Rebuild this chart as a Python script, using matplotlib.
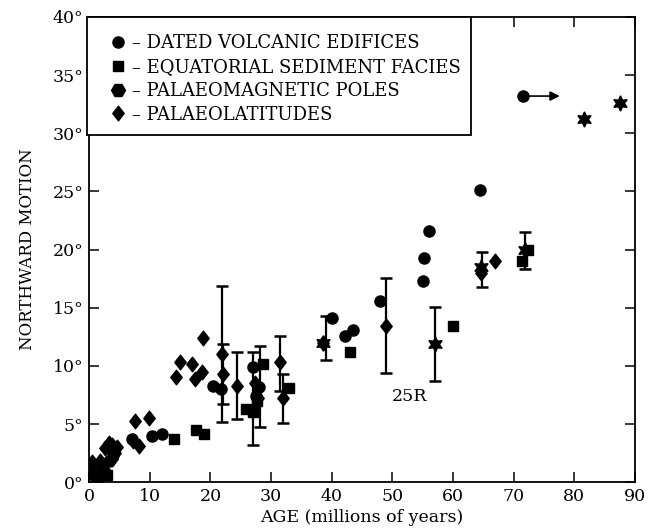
import matplotlib
matplotlib.use("Agg")
import matplotlib.pyplot as plt
from matplotlib.lines import Line2D
from matplotlib.patches import Rectangle
from matplotlib.path import Path

plt.rcParams['font.family'] = ['DejaVu Serif']

# ---- data ----
volc_x = [0.8, 2.2, 3.3, 4.0, 7.0, 10.3, 12.1, 20.5, 21.8, 27.1, 27.6, 28.0,
          40.0, 42.2, 43.5, 47.9, 55.1, 55.2, 56.1, 64.4, 71.5]
volc_y = [0.9, 0.7, 1.8, 2.3, 3.7, 3.95, 4.1, 8.3, 8.0, 9.9, 7.4, 8.2,
          14.1, 12.6, 13.1, 15.6, 17.3, 19.3, 21.6, 25.1, 33.2]

sed_x = [1.5, 3.0, 14.0, 17.7, 19.0, 25.9, 27.0, 27.7, 28.7, 33.0, 43.0, 60.0, 71.4, 72.4]
sed_y = [0.3, 0.6, 3.75, 4.45, 4.1, 6.3, 6.0, 7.0, 10.2, 8.1, 11.2, 13.45, 19.0, 20.0]

pole_x = [38.6, 57.0, 64.7, 71.8, 81.6, 87.6]
pole_y = [12.0, 11.9, 18.5, 20.0, 31.25, 32.6]

lat_x = [0.3, 0.5, 1.2, 1.5, 1.8, 2.0, 2.6, 2.8, 3.2, 3.7, 3.8, 4.2, 4.6, 7.5, 9.8, 7.3, 8.3,
         14.4, 15.0, 16.9, 17.5, 18.6, 18.7, 21.9, 22.1, 24.4, 27.3, 27.8, 31.5, 31.9,
         38.6, 48.9, 64.6, 67.0]
lat_y = [0.8, 1.7, 0.5, 0.2, 1.8, 1.3, 2.9, 0.9, 3.4, 3.2, 2.0, 2.5, 3.0, 5.3, 5.5, 3.5, 3.1,
         9.0, 10.3, 10.2, 8.9, 9.45, 12.4, 11.0, 9.3, 8.3, 8.5, 7.2, 10.3, 7.2,
         12.0, 13.45, 18.0, 19.0]

err_x = [21.9, 22.1, 24.4, 27.1, 28.1, 31.5, 31.9, 39.0, 48.9, 57.0, 64.8, 71.8]
err_y = [11.0, 9.3, 8.3, 7.2, 8.2, 10.2, 7.2, 12.4, 13.45, 11.9, 18.3, 19.9]
err_e = [5.85, 2.6, 2.9, 4.0, 3.5, 2.4, 2.1, 1.9, 4.1, 3.2, 1.5, 1.6]

arrow_from = (71.5, 33.2)
arrow_to = (77.6, 33.2)

legend_labels = ['– DATED VOLCANIC EDIFICES', '– EQUATORIAL SEDIMENT FACIES',
                 '– PALAEOMAGNETIC POLES', '– PALAEOLATITUDES']
x_ticks = [0, 10, 20, 30, 40, 50, 60, 70, 80, 90]
y_ticks = [0, 5, 10, 15, 20, 25, 30, 35, 40]

# diamond marker (slightly narrower than tall)
diamond = Path([(0, 1), (0.78, 0), (0, -1), (-0.78, 0), (0, 1)],
               [Path.MOVETO, Path.LINETO, Path.LINETO, Path.LINETO, Path.CLOSEPOLY])

# ---- figure ----
fig = plt.figure(figsize=(6.6, 5.31), dpi=100)
ax = fig.add_axes([0.135, 0.092, 0.827, 0.876])

ax.errorbar(err_x, err_y, yerr=err_e, fmt='none', ecolor='black',
            elinewidth=1.6, capsize=4, capthick=1.8, zorder=2)

ax.plot(volc_x, volc_y, 'o', color='black', ms=8, ls='none', zorder=3)
ax.plot(sed_x, sed_y, 's', color='black', ms=6.5, ls='none', zorder=3)
ax.plot(lat_x, lat_y, marker=diamond, color='black', ms=10.5, ls='none', zorder=3)
ax.plot(pole_x, pole_y, marker=(6, 1, 0), color='black', ms=11, ls='none', zorder=4)

ax.annotate('', xy=arrow_to, xytext=arrow_from,
            arrowprops=dict(arrowstyle='-|>', color='black', lw=1.2,
                            mutation_scale=14, shrinkA=0, shrinkB=0))

ax.text(52.8, 7.4, '25R', fontsize=12.5, ha='center', va='center')

ax.set_xlim(0, 90)
ax.set_ylim(0, 40)
ax.set_xticks(x_ticks)
ax.set_yticks(y_ticks)
ax.set_yticklabels([f'{t}°' for t in y_ticks])
ax.tick_params(direction='in', length=7, width=1.1, top=True, right=True,
               labelsize=12.5, pad=4)
for s in ax.spines.values():
    s.set_linewidth(1.3)

ax.set_xlabel('AGE (millions of years)', fontsize=12.5, labelpad=3)
ax.set_ylabel('NORTHWARD MOTION', fontsize=12, labelpad=12)

# legend box
box = Rectangle((-0.004, 0.746), 0.70 + 0.004, 0.254, transform=ax.transAxes,
                facecolor='white', edgecolor='black', lw=1.3, zorder=5, clip_on=False)
ax.add_patch(box)
handles = [Line2D([], [], marker='o', color='black', ls='none', ms=8),
           Line2D([], [], marker='s', color='black', ls='none', ms=6.5),
           Line2D([], [], marker='H', color='black', ls='none', ms=10),
           Line2D([], [], marker=diamond, color='black', ls='none', ms=10.5)]
leg = ax.legend(handles, legend_labels, loc='upper left', bbox_to_anchor=(0.02, 0.99),
                frameon=False, fontsize=13, handlelength=0.6, handletextpad=0.45,
                labelspacing=0.32, borderaxespad=0.3)
leg.set_zorder(6)

fig.savefig('out.png', dpi=100)
